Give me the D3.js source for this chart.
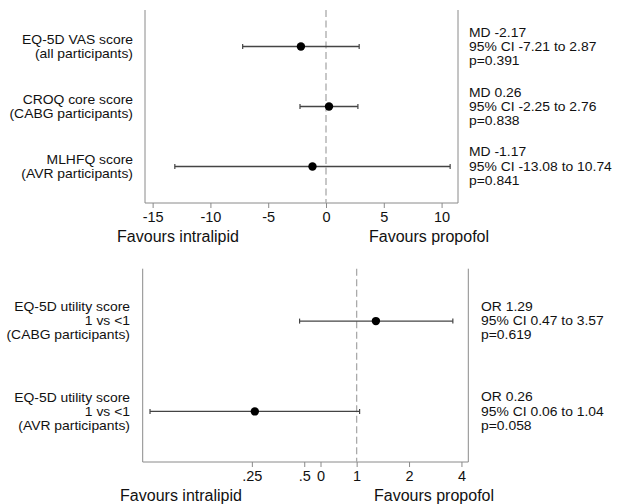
<!DOCTYPE html>
<html>
<head>
<meta charset="utf-8">
<script src="https://cdn.jsdelivr.net/npm/d3@7"></script>
<style>
  body { margin: 0; background: #fff; }
  text { font-family: "Liberation Sans", Arial, sans-serif; fill: #111; }
</style>
</head>
<body>
<svg width="622" height="504"></svg>
<script>
// top panel: mean differences
var mdLabels = [["EQ-5D VAS score", "(all participants)"],
                ["CROQ core score", "(CABG participants)"],
                ["MLHFQ score", "(AVR participants)"]];
var mdEst = [-2.17, 0.26, -1.17];
var mdLo = [-7.21, -2.25, -13.08];
var mdHi = [2.87, 2.76, 10.74];
var mdText = [["MD -2.17", "95% CI -7.21 to 2.87", "p=0.391"],
              ["MD 0.26", "95% CI -2.25 to 2.76", "p=0.838"],
              ["MD -1.17", "95% CI -13.08 to 10.74", "p=0.841"]];
var mdTicks = [-15, -10, -5, 0, 5, 10];

// bottom panel: odds ratios (log scale)
var orLabels = [["EQ-5D utility score", "1 vs <1", "(CABG participants)"],
                ["EQ-5D utility score", "1 vs <1", "(AVR participants)"]];
var orEst = [1.29, 0.26];
var orLo = [0.47, 0.065];
var orHi = [3.57, 1.04];
var orText = [["OR 1.29", "95% CI 0.47 to 3.57", "p=0.619"],
              ["OR 0.26", "95% CI 0.06 to 1.04", "p=0.058"]];
var orTicks = [0.25, 0.5, 0.62, 1, 2, 4];
var orTickLabels = [".25", ".5", "0", "1", "2", "4"];

var svg = d3.select("svg");

// the original glyphs are a bit squashed vertically
function label(g, x, y, s, anchor, size) {
  return g.append("text")
    .attr("transform", "translate(" + x + "," + y + ") scale(1,0.86)")
    .attr("text-anchor", anchor || "start")
    .style("font-size", (size || 13.9) + "px")
    .text(s);
}

function panel(opt) {
  var g = svg.append("g");
  var x = opt.x, y = opt.y;
  var top = y.range()[0], bottom = y.range()[1];
  var n = opt.est.length;

  // frame: left, right and bottom
  [x.range()[0], x.range()[1]].forEach(function(xx) {
    g.append("line").attr("x1", xx).attr("x2", xx)
      .attr("y1", top).attr("y2", bottom)
      .style("stroke", "#8a8a8a").style("stroke-width", 1);
  });

  var axis = d3.axisBottom(x).tickValues(opt.ticks).tickSize(5).tickPadding(4)
    .tickFormat(function(d, i) { return opt.tickLabels ? opt.tickLabels[i] : d; });
  var ax = g.append("g").attr("transform", "translate(0," + bottom + ")").call(axis);
  ax.select(".domain").attr("d", "M" + x.range()[0] + ",0H" + x.range()[1]).style("stroke", "#8a8a8a");
  ax.selectAll(".tick line").style("stroke", "#8a8a8a");
  ax.selectAll(".tick text").style("font-size", "14.5px")
    .style("font-family", "Liberation Sans, Arial, sans-serif").attr("fill", "#111");

  // null line
  g.append("line").attr("x1", x(opt.ref)).attr("x2", x(opt.ref))
    .attr("y1", top).attr("y2", bottom)
    .style("stroke", "#aaa").style("stroke-width", 1.3)
    .style("stroke-dasharray", "7,3.5");

  for (var i = 0; i < n; i++) {
    var yy = y(i);
    g.append("line").attr("x1", x(opt.lo[i])).attr("x2", x(opt.hi[i]))
      .attr("y1", yy).attr("y2", yy)
      .style("stroke", "#444").style("stroke-width", 1.4);
    [opt.lo[i], opt.hi[i]].forEach(function(v) {
      g.append("line").attr("x1", x(v)).attr("x2", x(v))
        .attr("y1", yy - 2.5).attr("y2", yy + 2.5)
        .style("stroke", "#444").style("stroke-width", 1.2);
    });
    g.append("circle").attr("cx", x(opt.est[i])).attr("cy", yy).attr("r", 4.2)
      .style("fill", "#000");

    var lab = opt.labels[i];
    var off = (lab.length - 1) / 2;
    lab.forEach(function(s, k) {
      label(g, opt.labelX, yy + (k - off) * opt.lh + 4.2, s, "end");
    });
    opt.text[i].forEach(function(s, k) {
      label(g, opt.textX, yy + (k - 1) * 14.2 + 4.2, s);
    });
  }

  g.append("text").attr("x", opt.leftTitleX).attr("y", opt.titleY)
    .attr("text-anchor", "middle").style("font-size", "16px").text("Favours intralipid");
  g.append("text").attr("x", opt.rightTitleX).attr("y", opt.titleY)
    .attr("text-anchor", "middle").style("font-size", "16px").text("Favours propofol");
}

panel({
  x: d3.scaleLinear().domain([-15.66, 11.42]).range([145, 458]),
  y: d3.scaleLinear().domain([-0.61, 2.61]).range([10, 203]),
  est: mdEst, lo: mdLo, hi: mdHi, labels: mdLabels, text: mdText,
  ticks: mdTicks, ref: 0, labelX: 133, lh: 14, textX: 469,
  leftTitleX: 178, rightTitleX: 429, titleY: 242
});

panel({
  x: d3.scaleLog().base(2).domain([0.059, 4.38]).range([142.7, 468.3]),
  y: d3.scaleLinear().domain([-0.58, 1.56]).range([268.7, 462]),
  est: orEst, lo: orLo, hi: orHi, labels: orLabels, text: orText,
  ticks: orTicks, tickLabels: orTickLabels, ref: 1, labelX: 130, lh: 14, textX: 481,
  leftTitleX: 181, rightTitleX: 434, titleY: 501
});
</script>
</body>
</html>
